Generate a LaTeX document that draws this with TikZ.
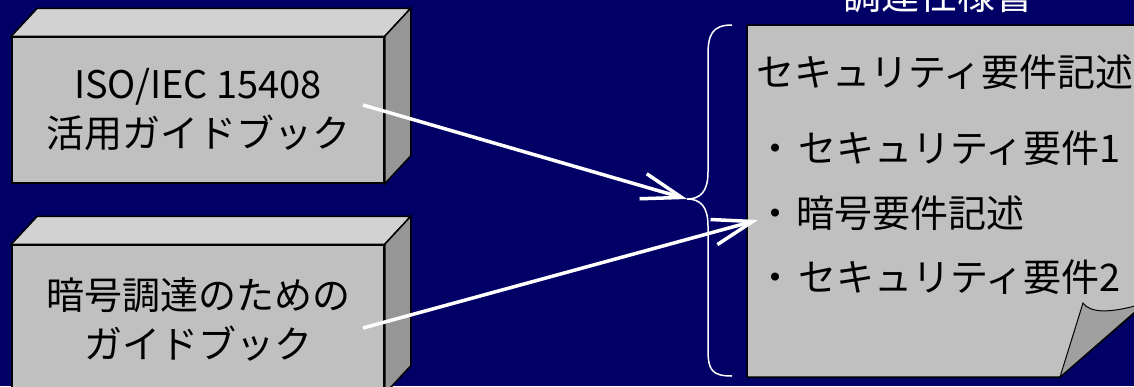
\documentclass[tikz,border=0pt]{standalone}
\usepackage{fontspec}
\setmainfont{Noto Sans CJK JP}
\usetikzlibrary{%
	arrows.meta,%
	calc%
}
\definecolor{navy}{HTML}{000066}
\definecolor{facegray}{HTML}{C0C0C0}
\definecolor{topgray}{HTML}{D2D2D2}
\definecolor{sidegray}{HTML}{969696}
\definecolor{foldgray}{HTML}{A0A0A0}

\begin{document}
\begin{tikzpicture}[x=1pt,y=-1pt,
	box/.style={draw,line width=1.5pt,fill=facegray,align=center,inner sep=0pt,minimum width=372pt,font=\fontsize{38}{49}\selectfont},
	face/.style={draw,line width=1.5pt},
	doctext/.style={anchor=west,inner sep=0pt,font=\fontsize{38}{40}\selectfont},
	flow/.style={white,line width=3.5pt,-{Straight Barb[length=40pt,width=26pt]}}]
		\fill[navy] (0,0) rectangle (1134,386);
		\useasboundingbox (0,0) rectangle (1134,386);
		
		\node[box,minimum height=146pt] (iso) at (198,110) {ISO/IEC 15408\\活用ガイドブック};
		\filldraw[face,fill=topgray] (iso.north west) -- ++(26,-28) -- ($(iso.north east)+(26,-28)$) -- (iso.north east) -- cycle;
		\filldraw[face,fill=sidegray] (iso.north east) -- ++(26,-28) -- ($(iso.south east)+(26,-28)$) -- (iso.south east) -- cycle;
		
		\node[box,minimum height=148pt] (guide) at (198,319) {暗号調達のための\\ガイドブック};
		\filldraw[face,fill=topgray] (guide.north west) -- ++(26,-28) -- ($(guide.north east)+(26,-28)$) -- (guide.north east) -- cycle;
		\filldraw[face,fill=sidegray] (guide.north east) -- ++(26,-28) -- ($(guide.south east)+(26,-28)$) -- (guide.south east) -- cycle;
		
		\filldraw[face,fill=facegray] (747,25) -- (1145,25) -- (1145,304) -- (1060,377) -- (747,377) -- cycle;
		\filldraw[fill=foldgray,line width=1pt] (1060,377) -- (1083,303) .. controls (1090,313) and (1110,314) .. (1145,303) -- cycle;
		
		\node[white,anchor=base,inner sep=0pt,font=\fontsize{38}{38}\selectfont] (spec) at (938,9) {調達仕様書};
		\node[doctext] (reqhead) at (756,72) {セキュリティ要件記述};
		\node[doctext] (req1) at (756,148) {・\hspace{4pt}セキュリティ要件1};
		\node[doctext] (crypto) at (756,213) {・\hspace{2pt}暗号要件記述};
		\node[doctext] (req2) at (756,277) {・\hspace{4pt}セキュリティ要件2};
		
		\coordinate (isoout) at (363,105);
		\coordinate (guideout) at (363,328);
		\coordinate (bracetip) at (687,199);
		\coordinate (docin) at (758,220);
		
		\draw[white,line width=1.5pt] (732,25) .. controls (712,25) and (708,35) .. (708,55) -- (708,172) .. controls (708,192) and (700,199) .. (bracetip) .. controls (700,199) and (708,206) .. (708,226) -- (708,350) .. controls (708,370) and (712,376) .. (732,376);
		
		\draw[flow] (isoout) -- (bracetip);
		\draw[flow] (guideout) -- (docin);
	\end{tikzpicture}
\end{document}
